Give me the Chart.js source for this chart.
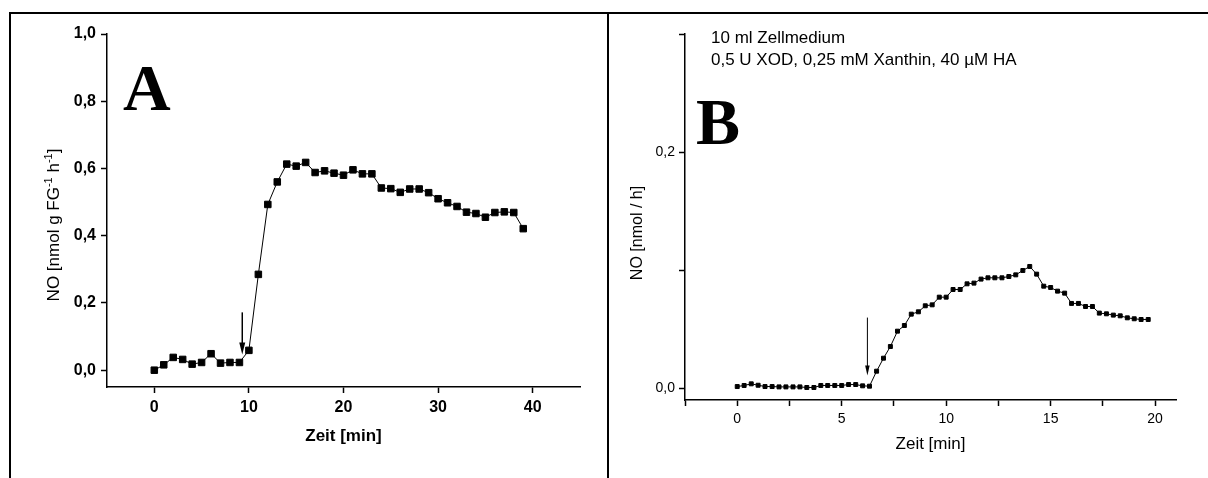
<!DOCTYPE html>
<html lang="de">
<head>
<meta charset="utf-8">
<title>NO-Freisetzung</title>
<script src="https://cdn.jsdelivr.net/npm/chart.js@4.4.1/dist/chart.umd.min.js"></script>
<style>
  html, body { margin: 0; padding: 0; background: #fff; }
  body { width: 1208px; height: 478px; position: relative; overflow: hidden; }
  .panel { position: absolute; top: 12px; height: 466px; box-sizing: border-box; border-top: 2px solid #000; }
  #panelA { left: 9px; width: 600px; border-left: 2px solid #000; border-right: 2px solid #000; }
  #panelB { left: 609px; width: 599px; }
  .panel canvas { position: absolute; left: 0; top: 0; }
</style>
</head>
<body>
<div class="panel" id="panelA"><canvas id="chartA" width="596" height="464"></canvas></div>
<div class="panel" id="panelB"><canvas id="chartB" width="599" height="464"></canvas></div>

<script>
const SANS = '"Liberation Sans", Arial, sans-serif'
const SERIF = '"Liberation Serif", "Times New Roman", serif'

// A: NO pro g Frischgewicht, ein Messwert pro Minute
const zeitA = [0, 1, 2, 3, 4, 5, 6, 7, 8, 9, 10, 11, 12, 13, 14, 15, 16, 17, 18, 19,
               20, 21, 22, 23, 24, 25, 26, 27, 28, 29, 30, 31, 32, 33, 34, 35, 36, 37, 38, 39]
const noA = [0.000, 0.016, 0.038, 0.032, 0.018, 0.023, 0.049, 0.021, 0.023, 0.023,
             0.059, 0.285, 0.493, 0.560, 0.613, 0.607, 0.618, 0.588, 0.593, 0.586,
             0.580, 0.596, 0.584, 0.584, 0.542, 0.540, 0.529, 0.539, 0.539, 0.528,
             0.510, 0.498, 0.487, 0.470, 0.466, 0.455, 0.469, 0.471, 0.469, 0.421]
const xTicksA = [0, 10, 20, 30, 40]
const yTicksA = [0, 0.2, 0.4, 0.6, 0.8, 1.0]
const yLabelsA = ['0,0', '0,2', '0,4', '0,6', '0,8', '1,0']
const pfeilA = { zeit: 9.3, von: 0.172, bis: 0.047 }   // Zugabe

// B: 10 ml Zellmedium, Messwert alle 20 s
const zeitB = [0, 0.33, 0.67, 1, 1.33, 1.67, 2, 2.33, 2.67, 3,
               3.33, 3.67, 4, 4.33, 4.67, 5, 5.33, 5.67, 6, 6.33,
               6.67, 7, 7.33, 7.67, 8, 8.33, 8.67, 9, 9.33, 9.67,
               10, 10.33, 10.67, 11, 11.33, 11.67, 12, 12.33, 12.67, 13,
               13.33, 13.67, 14, 14.33, 14.67, 15, 15.33, 15.67, 16, 16.33,
               16.67, 17, 17.33, 17.67, 18, 18.33, 18.67, 19, 19.33, 19.67]
const noB = [0.0014, 0.0023, 0.0037, 0.0025, 0.0014, 0.0014, 0.0011, 0.0011, 0.0011, 0.0011,
             0.0006, 0.0006, 0.0023, 0.0023, 0.0023, 0.0023, 0.0031, 0.0031, 0.0020, 0.0017,
             0.0144, 0.0254, 0.0353, 0.0483, 0.0531, 0.0627, 0.0647, 0.0698, 0.0706, 0.0771,
             0.0771, 0.0836, 0.0836, 0.0884, 0.0890, 0.0924, 0.0935, 0.0935, 0.0935, 0.0946,
             0.0960, 0.0997, 0.1031, 0.0966, 0.0864, 0.0853, 0.0822, 0.0805, 0.0718, 0.0718,
             0.0692, 0.0692, 0.0636, 0.0630, 0.0619, 0.0613, 0.0596, 0.0588, 0.0582, 0.0582]
const xTicksB = [-2.5, 0, 2.5, 5, 7.5, 10, 12.5, 15, 17.5, 20]
const xLabelsB = ['', '0', '', '5', '', '10', '', '15', '', '20']
const yTicksB = [0, 0.1, 0.2, 0.3]
const yLabelsB = ['0,0', '', '0,2', '']
const pfeilB = { zeit: 6.23, von: 0.0598, bis: 0.0108 }
const infoB = ['10 ml Zellmedium', '0,5 U XOD, 0,25 mM Xanthin, 40 µM HA']

function points(xs, ys) {
    return xs.map((x, i) => ({ x: x, y: ys[i] }))
}

// Achse mit festen Ticks, Striche nach aussen, kein Gitter
function axis(o) {
    return {
        type: 'linear',
        min: o.min,
        max: o.max,
        afterBuildTicks: s => { s.ticks = o.ticks.map(v => ({ value: v })) },
        afterFit: s => { if (o.width) s.width = o.width; if (o.height) s.height = o.height },
        grid: { display: true, drawOnChartArea: false, drawTicks: true, tickLength: 6, tickWidth: 1.5, tickColor: '#000' },
        border: { display: true, color: '#000', width: 1.5 },
        ticks: {
            color: '#000',
            font: o.font,
            padding: o.padding,
            autoSkip: false,
            maxRotation: 0,
            callback: (v, i) => o.labels[i]
        },
        title: o.title || { display: false }
    }
}

function drawArrow(chart, p, lw, headW, headL) {
    const { ctx, scales: { x, y } } = chart
    const px = x.getPixelForValue(p.zeit)
    const top = y.getPixelForValue(p.von)
    const tip = y.getPixelForValue(p.bis)
    ctx.save()
    ctx.strokeStyle = '#000'
    ctx.fillStyle = '#000'
    ctx.lineWidth = lw
    ctx.beginPath()
    ctx.moveTo(px, top)
    ctx.lineTo(px, tip - headL + 1)
    ctx.stroke()
    ctx.beginPath()
    ctx.moveTo(px, tip)
    ctx.lineTo(px - headW / 2, tip - headL)
    ctx.lineTo(px + headW / 2, tip - headL)
    ctx.closePath()
    ctx.fill()
    ctx.restore()
}

// gedrehter Achsentitel, Teile mit sup: true werden hochgestellt
function drawYTitle(ctx, parts, baseX, cy, size) {
    ctx.save()
    ctx.translate(baseX, cy)
    ctx.rotate(-Math.PI / 2)
    ctx.fillStyle = '#000'
    ctx.textBaseline = 'alphabetic'
    let total = 0
    parts.forEach(p => {
        ctx.font = (p.sup ? Math.round(size * 0.65) : size) + 'px ' + SANS
        p.w = ctx.measureText(p.t).width
        total += p.w
    })
    let x = -total / 2
    parts.forEach(p => {
        ctx.font = (p.sup ? Math.round(size * 0.65) : size) + 'px ' + SANS
        ctx.fillText(p.t, x, p.sup ? -size * 0.42 : 0)
        x += p.w
    })
    ctx.restore()
}

const extrasA = {
    id: 'extrasA',
    afterDraw(chart) {
        const ctx = chart.ctx
        ctx.save()
        ctx.fillStyle = '#000'
        ctx.font = 'bold 66px ' + SERIF
        ctx.fillText('A', 112, 96)
        ctx.restore()
        drawYTitle(ctx, [
            { t: 'NO [nmol g FG' }, { t: '-1', sup: true },
            { t: ' h' }, { t: '-1', sup: true }, { t: ']' }
        ], 48, 211, 17)
        drawArrow(chart, pfeilA, 1.5, 6, 12)
    }
}

const extrasB = {
    id: 'extrasB',
    afterDraw(chart) {
        const ctx = chart.ctx
        ctx.save()
        ctx.fillStyle = '#000'
        ctx.font = 'bold 66px ' + SERIF
        ctx.fillText('B', 87, 130)
        ctx.font = '17px ' + SANS
        ctx.fillText(infoB[0], 102, 29)
        ctx.fillText(infoB[1], 102, 51)
        ctx.restore()
        drawYTitle(ctx, [{ t: 'NO [nmol / h]' }], 33, 219, 16)
        drawArrow(chart, pfeilB, 1, 4.5, 10)
    }
}

new Chart(document.getElementById('chartA'), {
    type: 'scatter',
    data: {
        datasets: [{
            data: points(zeitA, noA),
            showLine: true,
            borderColor: '#000',
            borderWidth: 1,
            pointStyle: 'rect',
            pointRadius: 4.6,
            pointBorderWidth: 1,
            pointBackgroundColor: '#000',
            pointBorderColor: '#000'
        }]
    },
    options: {
        responsive: false,
        animation: false,
        layout: { padding: { left: 36, right: 27, top: 20, bottom: 21 } },
        plugins: { legend: { display: false }, tooltip: { enabled: false } },
        scales: {
            x: axis({
                min: -5, max: 45, ticks: xTicksA, labels: xTicksA.map(String), height: 70,
                font: { family: SANS, size: 16, weight: 'bold' }, padding: 5,
                title: { display: true, text: 'Zeit [min]', color: '#000',
                         font: { family: SANS, size: 17, weight: 'bold' }, padding: { top: 0, bottom: 10 } }
            }),
            y: axis({
                min: -0.05, max: 1.0, ticks: yTicksA, labels: yLabelsA, width: 60,
                font: { family: SANS, size: 16, weight: 'bold' }, padding: 5
            })
        }
    },
    plugins: [extrasA]
})

new Chart(document.getElementById('chartB'), {
    type: 'scatter',
    data: {
        datasets: [{
            data: points(zeitB, noB),
            showLine: true,
            borderColor: '#000',
            borderWidth: 1,
            pointStyle: 'rect',
            pointRadius: 2.8,
            pointBorderWidth: 1,
            pointBackgroundColor: '#000',
            pointBorderColor: '#000'
        }]
    },
    options: {
        responsive: false,
        animation: false,
        layout: { padding: { left: 16, right: 32, top: 20, bottom: 8 } },
        plugins: { legend: { display: false }, tooltip: { enabled: false } },
        scales: {
            x: axis({
                min: -2.5, max: 21, ticks: xTicksB, labels: xLabelsB, height: 70,
                font: { family: SANS, size: 14 }, padding: 5,
                title: { display: true, text: 'Zeit [min]', color: '#000',
                         font: { family: SANS, size: 17 }, padding: { top: 0, bottom: 15 } }
            }),
            y: axis({
                min: -0.01, max: 0.3, ticks: yTicksB, labels: yLabelsB, width: 60,
                font: { family: SANS, size: 14 }, padding: 4
            })
        }
    },
    plugins: [extrasB]
})
</script>
</body>
</html>
